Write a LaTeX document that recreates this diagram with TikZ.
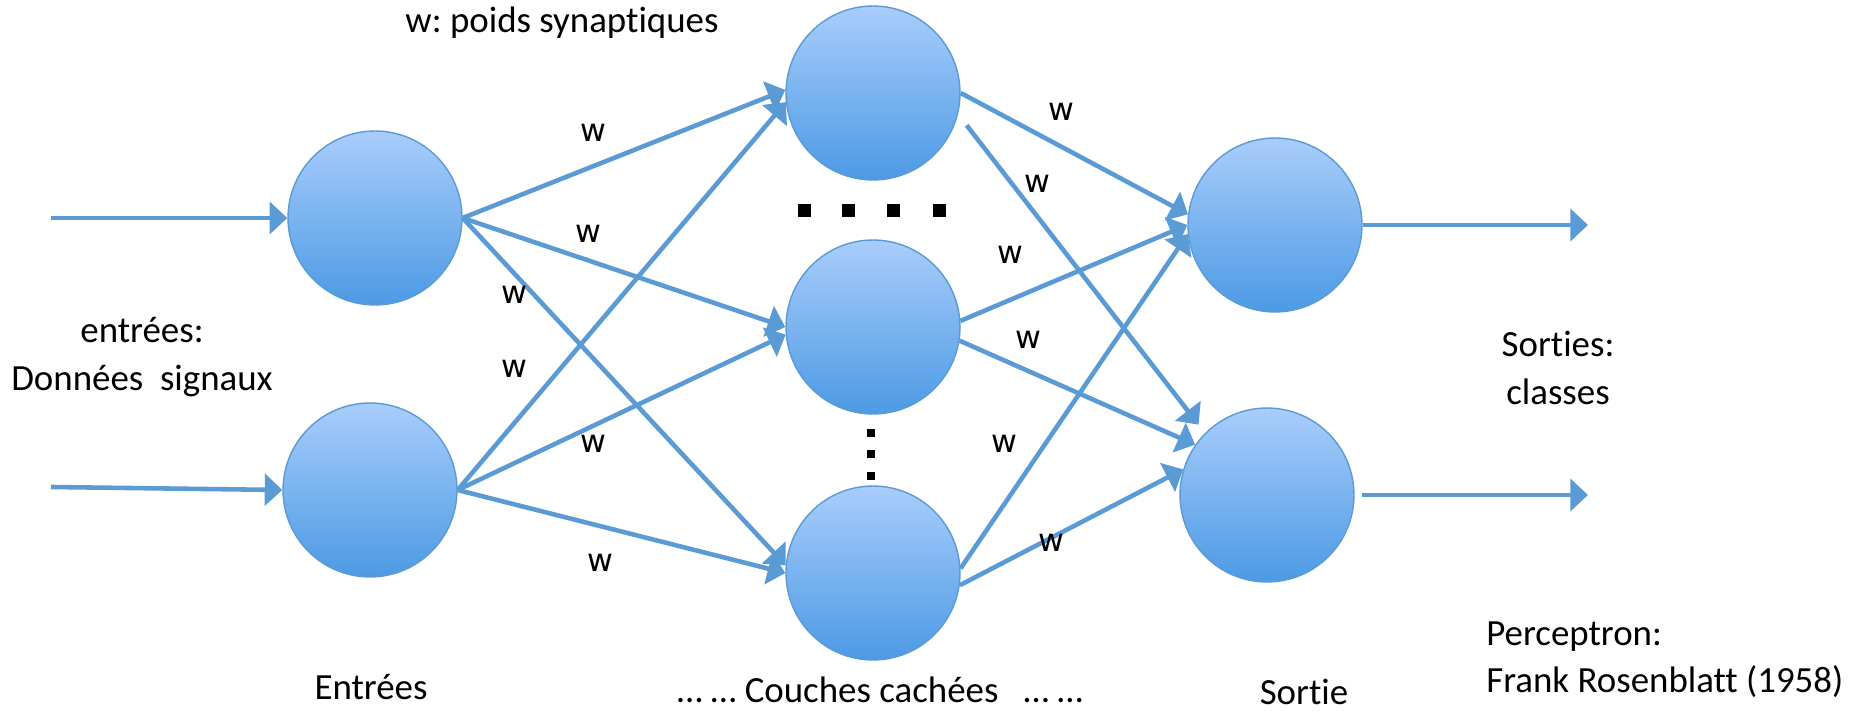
\documentclass[tikz,border=0pt]{standalone}
\usepackage{fontspec}
\setmainfont{Carlito}[Ligatures=NoCommon]
\newfontfamily\wfont{DejaVu Sans}
\usetikzlibrary{arrows.meta}
\definecolor{edgeblue}{HTML}{5B9BD5}
\definecolor{ctop}{HTML}{A9CDFB}
\definecolor{cbot}{HTML}{4C9AE4}
\frenchspacing
\begin{document}
\begin{tikzpicture}[x=0.02cm,y=-0.02cm,
  neuron/.style={circle, minimum size=3.48cm, inner sep=0pt, draw=edgeblue,
    line width=0.8pt, top color=ctop, bottom color=cbot},
  link/.style={draw=edgeblue, line width=2.6pt,
    -{Triangle[length=10pt,width=18pt]}},
  lbl/.style={font=\fontsize{21}{27}\selectfont, anchor=base, inner sep=0pt},
  wlbl/.style={font=\wfont\fontsize{18}{22}\selectfont, inner sep=0pt},
  bigdot/.style={fill=black, inner sep=0pt, minimum size=0.26cm},
  smalldot/.style={fill=black, inner sep=0pt, minimum size=0.16cm}]

\fill[white] (0,0) rectangle (1852,712);
\useasboundingbox (0,0) rectangle (1852,712);

% neurons
\node[neuron] (i1) at (375,218) {};
\node[neuron] (i2) at (370,490) {};
\node[neuron] (h1) at (873,93) {};
\node[neuron] (h2) at (873,327) {};
\node[neuron] (h3) at (873,573) {};
\node[neuron] (o1) at (1275,225) {};
\node[neuron] (o2) at (1267,495) {};

% free ends of the input and output arrows
\coordinate (x1) at (51,218);
\coordinate (x2) at (51,487);
\coordinate (y1) at (1588,225);
\coordinate (y2) at (1588,495);

\draw[link] (x1) -- (i1.west);
\draw[link] (x2) -- (i2.west);

% input layer -> hidden layer
\draw[link] (i1.east) -- (h1.178);
\draw[link] (i1.east) -- (h2.180);
\draw[link] (i1.east) -- (h3.175);
\draw[link] (i2.east) -- (h1.186);
\draw[link] (i2.east) -- (h2.185);
\draw[link] (i2.east) -- (h3.180);

% hidden layer -> output layer
\draw[link] (h1.0) -- (o1.173);
\draw[link, shorten <=8pt, shorten >=6pt] (h1.-14) -- (o2.135);
\draw[link] (h2.4) -- (o1.180);
\draw[link] (h2.-9) -- (o2.145);
\draw[link] (h3.3) -- (o1.186);
\draw[link] (h3.-8) -- (o2.163);

% outputs
\draw[link] (o1.east) -- (y1);
\draw[link, shorten <=4pt] (o2.east) -- (y2);

% weights
\node[wlbl] (w1) at (593,133) {w};
\node[wlbl] (w2) at (588,234) {w};
\node[wlbl] (w3) at (514,295) {w};
\node[wlbl] (w4) at (514,369) {w};
\node[wlbl] (w5) at (593,444) {w};
\node[wlbl] (w6) at (600,563) {w};
\node[wlbl] (w7) at (1061,112) {w};
\node[wlbl] (w8) at (1037,184) {w};
\node[wlbl] (w9) at (1010,255) {w};
\node[wlbl] (w10) at (1028,340) {w};
\node[wlbl] (w11) at (1004,444) {w};
\node[wlbl] (w12) at (1051,543) {w};

% ellipsis dots between hidden neurons
\node[bigdot] (d1) at (804,211) {};
\node[bigdot] (d2) at (848,211) {};
\node[bigdot] (d3) at (893,211) {};
\node[bigdot] (d4) at (939,211) {};
\node[smalldot] (v1) at (871,433) {};
\node[smalldot] (v2) at (871,454) {};
\node[smalldot] (v3) at (871,476) {};

% texts
\node[lbl] (tw) at (562,33) {w: poids synaptiques};
\node[lbl] (te1) at (142,343) {entrées:};
\node[lbl] (te2) at (142,391) {Données~~signaux};
\node[lbl] (ts1) at (1558,357) {Sorties:};
\node[lbl] (ts2) at (1558,405) {classes};
\node[lbl] (tin) at (371,699) {Entrées};
\node[lbl] (thid) at (880,702) {… … Couches cachées~~~… …};
\node[lbl] (tout) at (1304,704) {Sortie};
\node[lbl, anchor=base west] (tp1) at (1486,645) {Perceptron:};
\node[lbl, anchor=base west] (tp2) at (1486,692) {Frank Rosenblatt (1958)};
\end{tikzpicture}
\end{document}
